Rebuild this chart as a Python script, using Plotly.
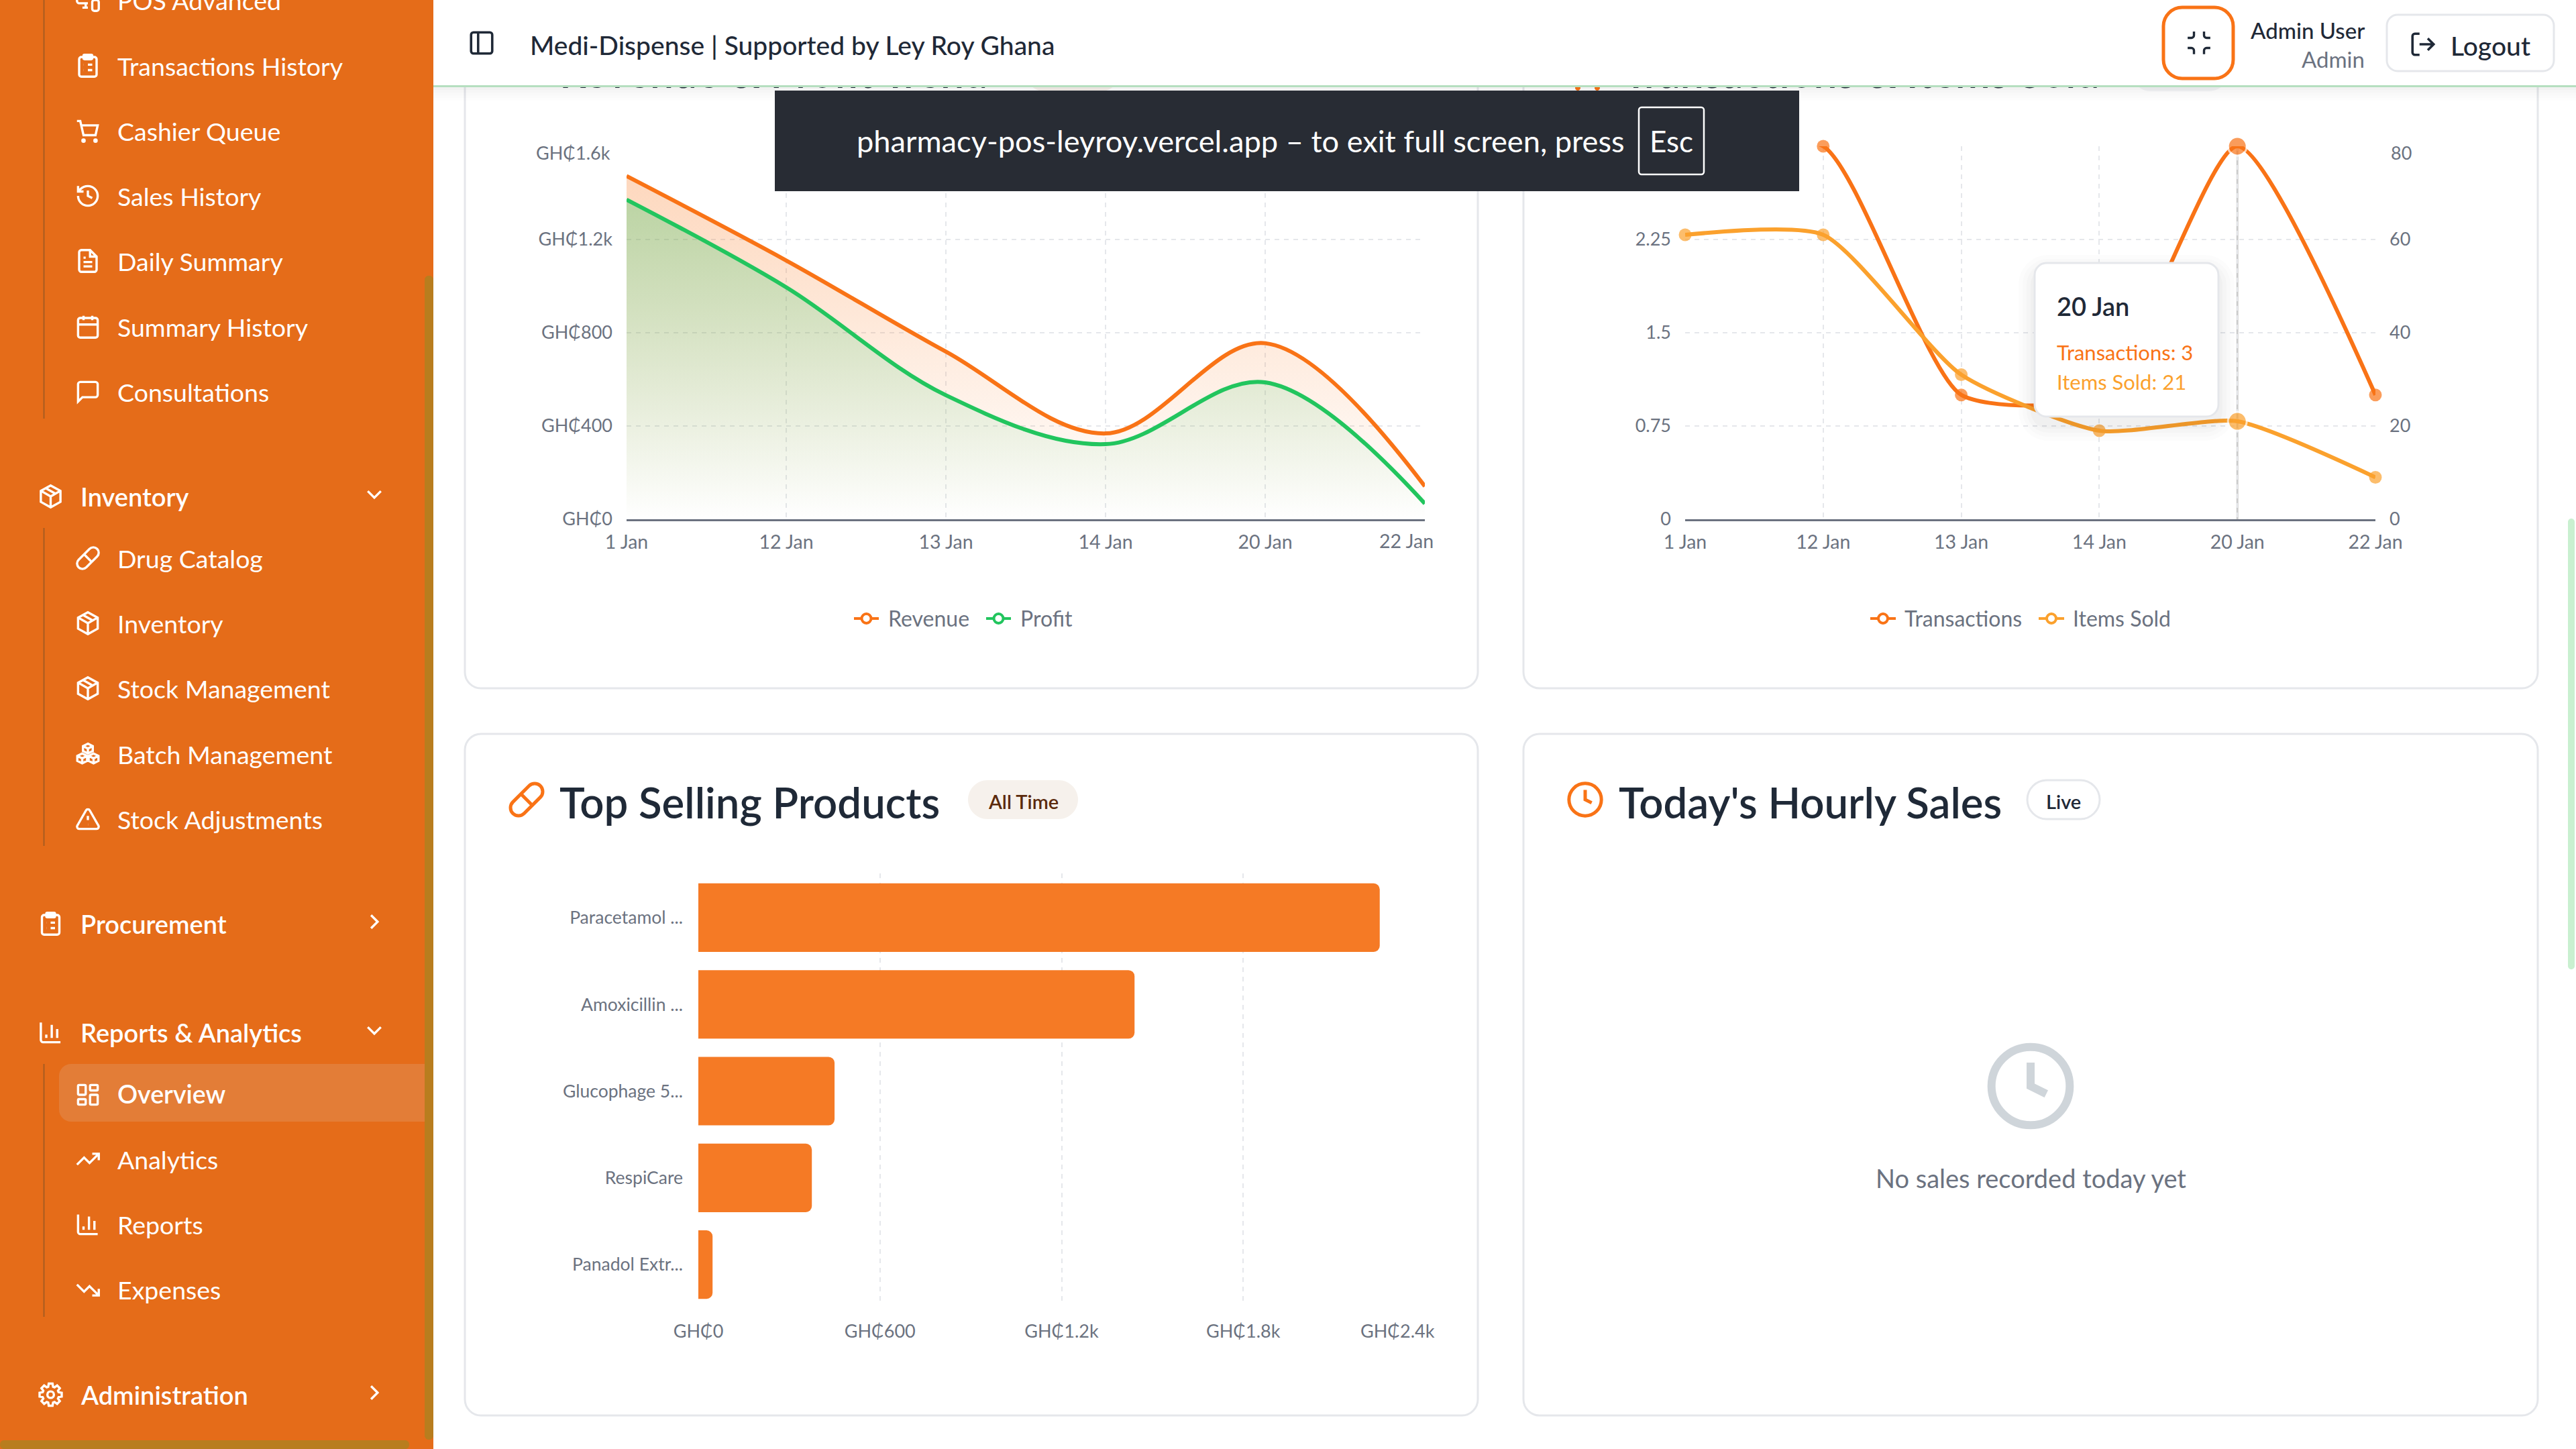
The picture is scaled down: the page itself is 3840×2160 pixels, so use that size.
"""Pharmacy POS overview dashboard, redrawn as one Plotly figure."""

import math
import re

import plotly.graph_objects as go

# chart data
dates = ["1 Jan", "12 Jan", "13 Jan", "14 Jan", "20 Jan", "22 Jan"]
revenue = [1472, 1110, 719, 368, 755, 141]
profit = [1371, 995, 532, 322, 587, 67]
transactions = [3, 3, 1, 1, 3, 1]
items_sold = [61, 61, 31, 19, 21, 9]
products = ["Paracetamol ...", "Amoxicillin ...", "Glucophage 5...", "RespiCare", "Panadol Extr..."]
product_sales = [2251, 1441, 450, 375, 47]

money_ticks = [0, 400, 800, 1200, 1600]
money_labels = ["GH₵0", "GH₵400", "GH₵800", "GH₵1.2k", ""]
count_ticks = [0, 0.75, 1.5, 2.25, 3]
count_labels = ["0", "0.75", "1.5", "2.25", "3"]
items_ticks = [0, 20, 40, 60, 80]
items_labels = ["0", "20", "40", "60", ""]
sales_ticks = [0, 600, 1200, 1800, 2400]
sales_labels = ["GH₵0", "GH₵600", "GH₵1.2k", "GH₵1.8k", ""]

ORANGE = "#f97316"
AMBER = "#fba12d"
GREEN = "#22c55e"
BAR = "#f57a25"
GREY = "#6b7280"
DARK = "#1f2937"
GRID = "#e5e7eb"
FONT = "Lato"
W, H = 3840, 2160


def fx(x):
    return x / W


def fy(y):
    return 1 - y / H


def rr(x, y, w, h, r):
    k = r * 0.45
    x1, y1 = x + w, y + h
    return (
        f"M{x + r} {y} L{x1 - r} {y} C{x1 - k} {y} {x1} {y + k} {x1} {y + r} "
        f"L{x1} {y1 - r} C{x1} {y1 - k} {x1 - k} {y1} {x1 - r} {y1} "
        f"L{x + r} {y1} C{x + k} {y1} {x} {y1 - k} {x} {y1 - r} "
        f"L{x} {y + r} C{x} {y + k} {x + k} {y} {x + r} {y} Z "
    )


def circle(cx, cy, r):
    k = r * 0.5523
    return (
        f"M{cx + r} {cy} C{cx + r} {cy + k} {cx + k} {cy + r} {cx} {cy + r} "
        f"C{cx - k} {cy + r} {cx - r} {cy + k} {cx - r} {cy} "
        f"C{cx - r} {cy - k} {cx - k} {cy - r} {cx} {cy - r} "
        f"C{cx + k} {cy - r} {cx + r} {cy - k} {cx + r} {cy} Z "
    )


def gear():
    pts = []
    for i in range(8):
        a = i * math.pi / 4
        for da, rad in ((-0.3, 7.6), (-0.17, 10.3), (0.17, 10.3), (0.3, 7.6)):
            pts.append((12 + rad * math.cos(a + da), 12 + rad * math.sin(a + da)))
    d = "M" + " L".join(f"{x:.2f} {y:.2f}" for x, y in pts) + " Z "
    return d + circle(12, 12, 3)


def cube(x, y, s):
    return (
        f"M{x} {y - s} L{x + s} {y - s / 2} L{x + s} {y + s / 2} L{x} {y + s} "
        f"L{x - s} {y + s / 2} L{x - s} {y - s / 2} Z "
        f"M{x - s} {y - s / 2} L{x} {y} L{x + s} {y - s / 2} M{x} {y} L{x} {y + s} "
    )


PACKAGE = (
    "M12 2 L21 7 L21 17 L12 22 L3 17 L3 7 Z M3.3 7 L12 12 L20.7 7 M12 22 L12 12 M7.5 4.4 L16.5 9.5"
)
CLIPBOARD = (
    rr(4, 4, 16, 18, 2) + rr(8, 2, 8, 4, 1) + "M12 11 L16 11 M12 16 L16 16 M8 11 L8.1 11 M8 16 L8.1 16"
)
COLUMNS = "M3 3 L3 19 C3 20 4 21 5 21 L21 21 M18 17 L18 9 M13 17 L13 5 M8 17 L8 14"
ICONS = {
    "monitor": "M18 8 L18 6 C18 5 17 4 16 4 L4 4 C3 4 2 5 2 6 L2 13 C2 14 3 15 4 15 L12 15 M10 15 L10 19 M7 19 L12 19 "
    + rr(16, 12, 6, 10, 2),
    "clipboard": CLIPBOARD,
    "cart": "M2 3 L5 3 L8 16 L19 16 L21 7 L6 7 " + circle(8, 21, 1) + circle(19, 21, 1),
    "history": "M3 12 C3 17 7 21 12 21 C17 21 21 17 21 12 C21 7 17 3 12 3 C9.4 3 7 4 5.3 5.7 L3 8 "
    "M3 3 L3 8 L8 8 M12 7 L12 12 L16 14",
    "file": "M6 2 L14 2 L20 8 L20 20 C20 21 19 22 18 22 L6 22 C5 22 4 21 4 20 L4 4 C4 3 5 2 6 2 Z "
    "M14 2 L14 8 L20 8 M16 13 L8 13 M16 17 L8 17 M10 9 L8 9",
    "calendar": rr(3, 4, 18, 18, 2) + "M16 2 L16 6 M8 2 L8 6 M3 10 L21 10",
    "message": "M21 15 C21 16 20 17 19 17 L7 17 L3 21 L3 5 C3 4 4 3 5 3 L19 3 C20 3 21 4 21 5 Z",
    "package": PACKAGE,
    "pill": "M10.5 20.5 L20.5 10.5 C22.4 8.6 22.4 5.4 20.5 3.5 C18.6 1.6 15.4 1.6 13.5 3.5 L3.5 13.5 "
    "C1.6 15.4 1.6 18.6 3.5 20.5 C5.4 22.4 8.6 22.4 10.5 20.5 Z M8.5 8.5 L15.5 15.5",
    "boxes": cube(12, 7, 4.5) + cube(6.8, 16, 4.5) + cube(17.2, 16, 4.5),
    "alert": "M21.7 18 L13.7 4 C13 2.7 11 2.7 10.3 4 L2.3 18 C1.5 19.3 2.5 21 4 21 L20 21 C21.5 21 22.5 19.3 21.7 18 Z "
    "M12 9 L12 13 M12 17 L12.1 17",
    "down": "M6 9 L12 15 L18 9",
    "right": "M9 6 L15 12 L9 18",
    "columns": COLUMNS,
    "dashboard": rr(3, 3, 7, 9, 1) + rr(14, 3, 7, 5, 1) + rr(14, 12, 7, 9, 1) + rr(3, 16, 7, 5, 1),
    "up": "M22 7 L13.5 15.5 L8.5 10.5 L2 17 M16 7 L22 7 L22 13",
    "fall": "M22 17 L13.5 8.5 L8.5 13.5 L2 7 M16 17 L22 17 L22 11",
    "gear": gear(),
    "panel": rr(3, 3, 18, 18, 2) + "M9 3 L9 21",
    "minimize": "M8 3 L8 6 C8 7 7 8 6 8 L3 8 M21 8 L18 8 C17 8 16 7 16 6 L16 3 "
    "M3 16 L6 16 C7 16 8 17 8 18 L8 21 M16 21 L16 18 C16 17 17 16 18 16 L21 16",
    "logout": "M9 21 L5 21 C4 21 3 20 3 19 L3 5 C3 4 4 3 5 3 L9 3 M16 17 L21 12 L16 7 M21 12 L9 12",
    "clock": circle(12, 12, 10) + "M12 6 L12 12 L16 14",
}

shapes = []
notes = []


def draw_path(d, fill=None, line=None, lw=0, layer="below"):
    shapes.append(
        dict(
            type="path",
            xref="paper",
            yref="paper",
            path=d,
            fillcolor=fill or "rgba(0,0,0,0)",
            line=dict(color=line or "rgba(0,0,0,0)", width=lw),
            layer=layer,
        )
    )


def to_paper(d, ox=0.0, oy=0.0, s=1.0):
    # shape paths in paper coordinates; only M, L, C and Z are used here
    out = []
    is_x = True
    for tok in re.findall(r"[MLCZ]|-?[\d.]+", d):
        if tok in "MLCZ":
            out.append(tok)
            is_x = True
        else:
            v = float(tok)
            out.append(f"{fx(ox + v * s):.6f}" if is_x else f"{fy(oy + v * s):.6f}")
            is_x = not is_x
    return " ".join(out)


def box(x0, y0, x1, y1, r=0, fill=None, line=None, lw=0, layer="below"):
    draw_path(to_paper(rr(x0, y0, x1 - x0, y1 - y0, r)), fill, line, lw, layer)


def icon(name, cx, cy, color="white", size=39, lw=3.4, layer="below"):
    s = size / 24
    draw_path(to_paper(ICONS[name], cx - size / 2, cy - size / 2, s), None, color, lw, layer)


def label(text, x, y, size, color=DARK, anchor="left", weight=400):
    notes.append(
        dict(
            text=text,
            x=fx(x),
            y=fy(y),
            xref="paper",
            yref="paper",
            xanchor=anchor,
            yanchor="middle",
            showarrow=False,
            font=dict(family=FONT, size=size, color=color, weight=weight),
        )
    )


def legend_item(name, color, x0, x1, tx):
    y = 922
    draw_path(to_paper(f"M{x0} {y} L{x1} {y}"), None, color, 4)
    draw_path(to_paper(circle((x0 + x1) / 2, y, 7)), "white", color, 4)
    label(name, tx, y, 32, GREY)


# ---- sidebar
box(0, -10, 646, 2170, 0, "#e56c19")
box(633, 411, 646, 2146, 6, "#b87d1e")
box(0, 2147, 610, 2160, 6, "#b87d1e")
for y0, y1 in ((-10, 624), (787, 1261), (1586, 1963)):
    box(64.5, y0, 66.5, y1, 0, "#a85c20")
draw_path(
    to_paper("M633 1586 L106 1586 C96 1586 88 1594 88 1604 L88 1654 C88 1664 96 1672 106 1672 L633 1672 Z"),
    "#e37d37",
)

sub_items = [
    ("POS Advanced", 0, "monitor"),
    ("Transactions History", 98, "clipboard"),
    ("Cashier Queue", 195, "cart"),
    ("Sales History", 292, "history"),
    ("Daily Summary", 389, "file"),
    ("Summary History", 487, "calendar"),
    ("Consultations", 584, "message"),
    ("Drug Catalog", 832, "pill"),
    ("Inventory", 929, "package"),
    ("Stock Management", 1026, "package"),
    ("Batch Management", 1124, "boxes"),
    ("Stock Adjustments", 1221, "alert"),
    ("Analytics", 1728, "up"),
    ("Reports", 1825, "columns"),
    ("Expenses", 1923, "fall"),
]
for name, y, ic in sub_items:
    label(name, 173, y, 37.5, "white")
    icon(ic, 131, y)
label("Overview", 173, 1631, 37.5, "white", weight=600)
icon("dashboard", 131, 1632)

group_items = [
    ("Inventory", 740, "package", "down"),
    ("Procurement", 1377, "clipboard", "right"),
    ("Reports & Analytics", 1539, "columns", "down"),
    ("Administration", 2079, "gear", "right"),
]
for name, y, ic, chevron in group_items:
    label(name, 118, y, 38, "white", weight=600)
    icon(ic, 75.5, y)
    icon(chevron, 558, y - 3)

# ---- cards
for x0, x1, y0, y1 in ((693, 2203, 20, 1026), (2271, 3783, 20, 1026), (693, 2203, 1094, 2110), (2271, 3783, 1094, 2110)):
    box(x0, y0, x1, y1, 24, "white", GRID, 3)

box(1528, 78, 1670, 136, 29, "#f6f0ea")
box(3177, 78, 3322, 136, 29, "#f3f4f6")
draw_path(to_paper(circle(2352, 131, 4) + circle(2381, 131, 4)), ORANGE)

icon("pill", 785, 1192, ORANGE, 58, 5)
label("Top Selling Products", 832, 1195, 63.5, DARK, weight=600)
box(1443, 1163, 1607, 1221, 29, "#f6f1ec")
label("All Time", 1525, 1194, 29, "#5b2a0c", "center", 600)

icon("clock", 2363, 1192, ORANGE, 58, 5)
label("Today's Hourly Sales", 2411, 1195, 63.5, DARK, weight=600)
box(3022, 1163, 3130, 1221, 29, "white", GRID, 3)
label("Live", 3076, 1194, 29, DARK, "center", 600)

icon("clock", 3027, 1619, "#cfd5da", 140, 12)
label("No sales recorded today yet", 3027, 1756, 38, GREY, "center")

legend_item("Revenue", ORANGE, 1273, 1310, 1322)
legend_item("Profit", GREEN, 1470, 1507, 1519)
legend_item("Transactions", ORANGE, 2788, 2826, 2837)
legend_item("Items Sold", AMBER, 3039, 3077, 3088)

# tick labels that sit away from their ticks in the original
label("GH₵1.6k", 912, 228, 27, GREY, "right")
label("22 Jan", 2139, 806, 28.5, GREY, "right")
label("80", 3562, 228, 27, GREY)
label("GH₵2.4k", 2141, 1983, 27, GREY, "right")

# cursor line at the hovered date
shapes.append(
    dict(
        type="line",
        xref="x2",
        yref="y2 domain",
        x0="20 Jan",
        x1="20 Jan",
        y0=0,
        y1=1,
        line=dict(color="#cccccc", width=3),
        layer="below",
    )
)

# ---- everything that sits on top of the charts
for i, alpha in enumerate((0.05, 0.035, 0.025, 0.015, 0.008)):
    box(646, 130 + i * 4, 3840, 134 + i * 4, 0, f"rgba(0,0,0,{alpha})", layer="above")
box(646, -10, 3850, 128, 0, "white", layer="above")
box(646, 127, 3850, 130, 0, "#b5dfbf", layer="above")

for i, alpha in enumerate((0.012, 0.012, 0.015, 0.02)):
    grow = 24 - i * 6
    box(3033 - grow, 392 - grow + 12, 3307 + grow, 621 + grow + 12, 20 + grow, f"rgba(0,0,0,{alpha})", layer="above")
box(3033, 392, 3307, 621, 18, "white", GRID, 3, layer="above")
label("20 Jan", 3064, 456, 38, DARK, weight=600)
label("Transactions: 3", 3064, 525, 31, ORANGE)
label("Items Sold: 21", 3064, 569, 31, AMBER)

box(1155, 135, 2682, 285, 0, "#282c34", layer="above")
box(2443, 160, 2540, 260, 4, None, "white", 2.5, layer="above")
label("pharmacy-pos-leyroy.vercel.app – to exit full screen, press", 1275, 210, 45.2, "white")
label("Esc", 2491, 210, 44, "white", "center")

icon("panel", 718, 64, DARK, 42, 3.6, "above")
label("Medi-Dispense | Supported by Ley Roy Ghana", 788, 67, 39, DARK, weight=500)
box(3225, 11, 3329, 117, 28, "white", ORANGE, 5, layer="above")
icon("minimize", 3278, 64, DARK, 45, 3.4, "above")
label("Admin User", 3527, 45, 33, DARK, "right", 500)
label("Admin", 3527, 88, 33, GREY, "right")
box(3558, 22, 3807, 106, 16, "white", GRID, 3, layer="above")
icon("logout", 3612, 66, DARK, 42, 3.6, "above")
label("Logout", 3651, 68, 39, DARK, weight=500)

# page scrollbar
box(3828, 773, 3838, 1445, 5, "#c9f0d0", layer="above")

# ---- traces
fig = go.Figure()

fig.add_trace(
    go.Scatter(
        x=dates,
        y=revenue,
        name="Revenue",
        mode="lines",
        line=dict(color=ORANGE, width=6, shape="spline"),
        fill="tozeroy",
        fillgradient=dict(
            type="vertical",
            start=0,
            stop=max(revenue),
            colorscale=[[0, "rgba(249,115,22,0)"], [1, "rgba(249,115,22,0.28)"]],
        ),
        xaxis="x",
        yaxis="y",
    )
)
fig.add_trace(
    go.Scatter(
        x=dates,
        y=profit,
        name="Profit",
        mode="lines",
        line=dict(color=GREEN, width=6, shape="spline"),
        fill="tozeroy",
        fillgradient=dict(
            type="vertical",
            start=0,
            stop=max(profit),
            colorscale=[[0, "rgba(34,197,94,0)"], [1, "rgba(34,197,94,0.3)"]],
        ),
        xaxis="x",
        yaxis="y",
    )
)

dot_sizes = [28 if d == "20 Jan" else 19 for d in dates]
dot_edges = [3 if d == "20 Jan" else 0 for d in dates]
fig.add_trace(
    go.Scatter(
        x=dates,
        y=transactions,
        name="Transactions",
        mode="lines+markers",
        line=dict(color=ORANGE, width=6, shape="spline", smoothing=0.6),
        marker=dict(color=ORANGE, size=dot_sizes, line=dict(color="white", width=dot_edges)),
        cliponaxis=False,
        xaxis="x2",
        yaxis="y2",
    )
)
fig.add_trace(
    go.Scatter(
        x=dates,
        y=items_sold,
        name="Items Sold",
        mode="lines+markers",
        line=dict(color=AMBER, width=6, shape="spline", smoothing=0.6),
        marker=dict(color=AMBER, size=dot_sizes, line=dict(color="white", width=dot_edges)),
        cliponaxis=False,
        xaxis="x2",
        yaxis="y3",
    )
)
fig.add_trace(
    go.Bar(
        x=product_sales,
        y=products,
        orientation="h",
        name="Sales",
        marker=dict(color=BAR, cornerradius=9, line=dict(width=0)),
        xaxis="x3",
        yaxis="y4",
    )
)
# section titles of the top row run under the header bar
fig.add_trace(
    go.Scatter(
        x=[834, 2420],
        y=[115, 115],
        mode="text",
        text=["Revenue & Profit Trend", "Transactions & Items Sold"],
        textposition="middle right",
        textfont=dict(family=FONT, size=62.5, color=DARK, weight=600),
        cliponaxis=False,
        xaxis="x4",
        yaxis="y5",
    )
)

tick_font = dict(family=FONT, size=27, color=GREY)
date_font = dict(family=FONT, size=28.5, color=GREY)
dash = "7px,7px"


def cat_axis(x0, x1, anchor):
    return dict(
        domain=[fx(x0), fx(x1)],
        anchor=anchor,
        type="category",
        categoryorder="array",
        categoryarray=dates,
        range=[0, len(dates) - 1],
        showgrid=True,
        gridcolor=GRID,
        griddash=dash,
        gridwidth=2,
        showline=True,
        linecolor=GREY,
        linewidth=3,
        ticks="",
        ticklabelstandoff=7,
        tickfont=date_font,
        zeroline=False,
    )


def val_axis(y0, y1, anchor, vals, text, top, **kw):
    return dict(
        domain=[fy(y1), fy(y0)],
        anchor=anchor,
        range=[0, top],
        tickmode="array",
        tickvals=vals,
        ticktext=text,
        gridcolor=GRID,
        griddash=dash,
        gridwidth=2,
        ticks="",
        ticklabelstandoff=20,
        tickfont=tick_font,
        zeroline=False,
        showline=False,
        **kw,
    )


first_dates = dates[:-1] + [" "]
xaxis = cat_axis(934, 2124, "y")
xaxis.update(tickmode="array", tickvals=dates, ticktext=first_dates)

fig.update_layout(
    width=W,
    height=H,
    autosize=False,
    margin=dict(l=0, r=0, t=0, b=0, autoexpand=False),
    paper_bgcolor="white",
    plot_bgcolor="rgba(0,0,0,0)",
    showlegend=False,
    font=dict(family=FONT, color=GREY),
    bargap=0.21,
    xaxis=xaxis,
    yaxis=val_axis(218, 774, "x", money_ticks, money_labels, 1600),
    xaxis2=cat_axis(2512, 3541, "y2"),
    yaxis2=val_axis(218, 774, "x2", count_ticks, count_labels, 3),
    yaxis3=val_axis(
        218, 774, "x2", items_ticks, items_labels, 80, overlaying="y2", side="right", showgrid=False
    ),
    xaxis3=dict(
        domain=[fx(1041), fx(2124)],
        anchor="y4",
        range=[0, 2400],
        tickmode="array",
        tickvals=sales_ticks,
        ticktext=sales_labels,
        showgrid=True,
        gridcolor=GRID,
        griddash=dash,
        gridwidth=2,
        ticks="",
        ticklabelstandoff=24,
        tickfont=tick_font,
        zeroline=False,
    ),
    yaxis4=dict(
        domain=[fy(1942), fy(1302)],
        anchor="x3",
        type="category",
        categoryorder="array",
        categoryarray=products,
        range=[4.44, -0.51],
        showgrid=False,
        ticks="",
        ticklabelstandoff=22,
        tickfont=dict(family=FONT, size=26.5, color=GREY),
        zeroline=False,
    ),
    xaxis4=dict(domain=[0, 1], range=[0, W], visible=False, anchor="y5"),
    yaxis5=dict(domain=[0, 1], range=[H, 0], visible=False, anchor="x4"),
    shapes=shapes,
    annotations=notes,
)

# the default page margin would push the fixed-size figure out of the window
fig.write_html(
    "out.html",
    config={"displayModeBar": False},
    post_script="document.body.style.margin='0';document.documentElement.style.overflow='hidden';",
)
